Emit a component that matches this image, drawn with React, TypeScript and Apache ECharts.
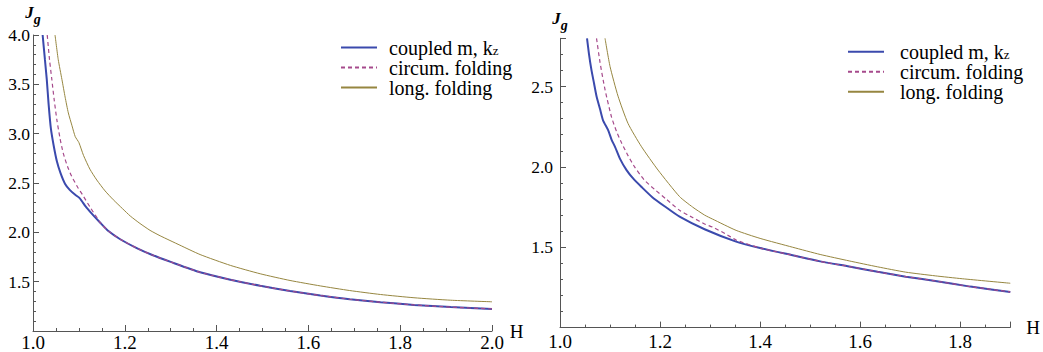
import React, { useEffect, useRef } from "react";
import * as echarts from "echarts";

const SERIES_NAMES = ["coupled m, kz", "circum. folding", "long. folding"];

// Left panel (H from 1.0 to 2.0, Jg from 1.0 to 4.0)
const leftCoupled: [number, number][] = [
  [1.021, 4.0], [1.026, 3.75], [1.03, 3.55], [1.034, 3.3], [1.039, 3.05], [1.045, 2.88],
  [1.052, 2.72], [1.06, 2.6], [1.07, 2.49], [1.08, 2.43], [1.092, 2.38], [1.102, 2.345],
  [1.115, 2.26], [1.128, 2.19], [1.146, 2.1], [1.165, 2.01], [1.19, 1.93], [1.226, 1.84],
  [1.26, 1.77], [1.3, 1.7], [1.364, 1.595], [1.43, 1.52], [1.495, 1.458], [1.56, 1.405],
  [1.626, 1.36], [1.69, 1.322], [1.757, 1.292], [1.83, 1.264], [1.91, 1.242], [2.0, 1.224],
];
const leftCircum: [number, number][] = [
  [1.031, 4.0], [1.036, 3.75], [1.041, 3.55], [1.046, 3.35], [1.052, 3.14], [1.059, 2.95],
  [1.066, 2.8], [1.075, 2.67], [1.084, 2.57], [1.097, 2.46], [1.11, 2.365], [1.125, 2.25],
  [1.14, 2.145], [1.146, 2.1], [1.165, 2.01], [1.19, 1.93], [1.226, 1.84], [1.26, 1.77],
  [1.3, 1.7], [1.364, 1.595], [1.43, 1.52], [1.495, 1.458], [1.56, 1.405], [1.626, 1.36],
  [1.69, 1.322], [1.757, 1.292], [1.83, 1.264], [1.91, 1.242], [2.0, 1.224],
];
const leftLong: [number, number][] = [
  [1.048, 4.0], [1.055, 3.75], [1.063, 3.55], [1.07, 3.37], [1.077, 3.21], [1.085, 3.08],
  [1.092, 2.97], [1.1, 2.91], [1.11, 2.78], [1.124, 2.64], [1.139, 2.53], [1.157, 2.42],
  [1.175, 2.33], [1.195, 2.24], [1.212, 2.165], [1.233, 2.09], [1.255, 2.02], [1.277, 1.965],
  [1.32, 1.87], [1.364, 1.775], [1.43, 1.665], [1.495, 1.58], [1.56, 1.512], [1.626, 1.457],
  [1.69, 1.41], [1.757, 1.37], [1.83, 1.337], [1.91, 1.312], [2.0, 1.296],
];

// Right panel (H from 1.0 to 1.9, Jg from 1.0 to 2.8)
const rightCoupled: [number, number][] = [
  [1.054, 2.8], [1.058, 2.7], [1.063, 2.6], [1.068, 2.52], [1.073, 2.44], [1.08, 2.36],
  [1.086, 2.29], [1.096, 2.23], [1.103, 2.17], [1.11, 2.125], [1.12, 2.05], [1.133, 1.98],
  [1.147, 1.925], [1.163, 1.875], [1.185, 1.81], [1.209, 1.755], [1.239, 1.69], [1.289, 1.612],
  [1.352, 1.535], [1.4, 1.495], [1.465, 1.45], [1.52, 1.412], [1.578, 1.38], [1.635, 1.347],
  [1.691, 1.317], [1.75, 1.29], [1.82, 1.255], [1.9, 1.222],
];
const rightCircum: [number, number][] = [
  [1.073, 2.8], [1.08, 2.65], [1.09, 2.48], [1.103, 2.31], [1.113, 2.22], [1.123, 2.15],
  [1.136, 2.07], [1.149, 2.0], [1.168, 1.92], [1.189, 1.86], [1.212, 1.8], [1.239, 1.73],
  [1.265, 1.685], [1.289, 1.645], [1.305, 1.625], [1.33, 1.585], [1.352, 1.545], [1.4, 1.495],
  [1.465, 1.45], [1.52, 1.412], [1.578, 1.38], [1.635, 1.347], [1.691, 1.317], [1.75, 1.29],
  [1.82, 1.255], [1.9, 1.222],
];
const rightLong: [number, number][] = [
  [1.09, 2.8], [1.1, 2.625], [1.116, 2.44], [1.136, 2.27], [1.163, 2.125], [1.196, 1.98],
  [1.239, 1.815], [1.265, 1.75], [1.289, 1.7], [1.305, 1.675], [1.352, 1.605], [1.4, 1.555],
  [1.465, 1.5], [1.52, 1.455], [1.578, 1.415], [1.635, 1.378], [1.691, 1.345], [1.75, 1.322],
  [1.804, 1.304], [1.9, 1.276],
];

const X_TICK_STEP = 0.2;
const Y_TICK_STEP = 0.5;

const SERIF = "Liberation Serif";
const COLORS = ["#3b4aad", "#a64a8c", "#968640"];
const AXIS_COLOR = "#555555";

function isMultiple(v: number, step: number) {
  const r = v / step;
  return Math.abs(r - Math.round(r)) < 1e-6;
}

export default function App() {
  const ref = useRef<HTMLDivElement>(null);

  useEffect(() => {
    document.body.style.margin = "0";
    if (!ref.current) return;
    const chart = echarts.init(ref.current, undefined, { renderer: "svg" });

    const xAxisBase = (gridIndex: number, max: number, gap: number, labelMargin: number) => ({
      type: "value" as const,
      gridIndex,
      min: 1.0,
      max,
      interval: X_TICK_STEP,
      name: "H",
      nameLocation: "end" as const,
      nameGap: gap,
      nameTextStyle: { fontFamily: SERIF, fontSize: 19, color: "#000" },
      axisLine: { show: true, onZero: false, lineStyle: { color: AXIS_COLOR, width: 1 } },
      axisTick: { show: true, inside: true, length: 6, lineStyle: { color: AXIS_COLOR } },
      minorTick: { show: true, splitNumber: 4, length: 3, lineStyle: { color: AXIS_COLOR } },
      splitLine: { show: false },
      axisLabel: {
        margin: labelMargin,
        fontFamily: SERIF,
        fontSize: 19,
        color: "#000",
        formatter: (v: number) => (isMultiple(v, X_TICK_STEP) ? v.toFixed(1) : ""),
      },
    });

    const yAxisBase = (gridIndex: number, max: number, labelMargin: number) => ({
      type: "value" as const,
      gridIndex,
      min: 1.0,
      max,
      interval: Y_TICK_STEP,
      name: "{j|J}{g|g}",
      nameLocation: "end" as const,
      nameGap: 6,
      nameTextStyle: {
        align: "center",
        rich: {
          j: { fontFamily: SERIF, fontStyle: "italic", fontWeight: "bold", fontSize: 17, color: "#000", lineHeight: 16, verticalAlign: "top" },
          g: { fontFamily: SERIF, fontStyle: "italic", fontWeight: "bold", fontSize: 14, color: "#000", lineHeight: 22, verticalAlign: "bottom" },
        },
      },
      axisLine: { show: true, onZero: false, lineStyle: { color: AXIS_COLOR, width: 1 } },
      axisTick: { show: true, inside: true, length: 6, lineStyle: { color: AXIS_COLOR } },
      minorTick: { show: true, splitNumber: 5, length: 3, lineStyle: { color: AXIS_COLOR } },
      splitLine: { show: false },
      axisLabel: {
        margin: labelMargin,
        fontFamily: SERIF,
        fontSize: 17.5,
        color: "#000",
        formatter: (v: number) => (isMultiple(v, Y_TICK_STEP) && v > 1.0001 ? v.toFixed(1) : ""),
      },
    });

    const line = (name: string, data: [number, number][], idx: number, gridIdx: number) => ({
      type: "line" as const,
      name,
      data,
      xAxisIndex: gridIdx,
      yAxisIndex: gridIdx,
      showSymbol: false,
      symbol: "none",
      smooth: 0.2,
      clip: true,
      z: idx === 1 ? 3 : 2,
      lineStyle:
        idx === 0
          ? { color: COLORS[0], width: 2 }
          : idx === 1
          ? { color: COLORS[1], width: 1.2, type: [4, 3] as any }
          : { color: COLORS[2], width: 1 },
      itemStyle: { color: COLORS[idx] },
    });

    const legendBase = (left: number, top: number, gapPad: number) => ({
      left,
      top,
      orient: "vertical" as const,
      padding: 0,
      itemGap: 0,
      itemWidth: 36,
      itemHeight: 21,
      data: SERIES_NAMES,
      selectedMode: false,
      itemStyle: { opacity: 0 },
      formatter: (n: string) => (n === "coupled m, kz" ? "{t|coupled m, k}{s|z}" : "{t|" + n + "}"),
      textStyle: {
        fontFamily: SERIF,
        fontSize: 20,
        color: "#000",
        padding: [0, 0, 0, gapPad],
        rich: {
          t: { fontFamily: SERIF, fontSize: 20, color: "#000", lineHeight: 21 },
          s: { fontFamily: SERIF, fontSize: 13, color: "#000", lineHeight: 21, padding: [5, 0, 0, 0] },
        },
      },
    });

    chart.setOption({
      animation: false,
      backgroundColor: "#ffffff",
      grid: [
        { left: 33, top: 35, width: 459, height: 296.4 },
        { left: 560, top: 38.3, width: 451.8, height: 289.3 },
      ],
      xAxis: [xAxisBase(0, 2.0, 11, 2), xAxisBase(1, 1.9, 16, 4)],
      yAxis: [yAxisBase(0, 4.0, 3), yAxisBase(1, 2.8, 7)],
      legend: [legendBase(340, 37.5, 7), legendBase(847, 41.8, 11)],
      series: [
        line(SERIES_NAMES[0], leftCoupled, 0, 0),
        line(SERIES_NAMES[1], leftCircum, 1, 0),
        line(SERIES_NAMES[2], leftLong, 2, 0),
        line(SERIES_NAMES[0], rightCoupled, 0, 1),
        line(SERIES_NAMES[1], rightCircum, 1, 1),
        line(SERIES_NAMES[2], rightLong, 2, 1),
      ],
    });

    return () => chart.dispose();
  }, []);

  return <div ref={ref} style={{ width: 1043, height: 352 }} />;
}
